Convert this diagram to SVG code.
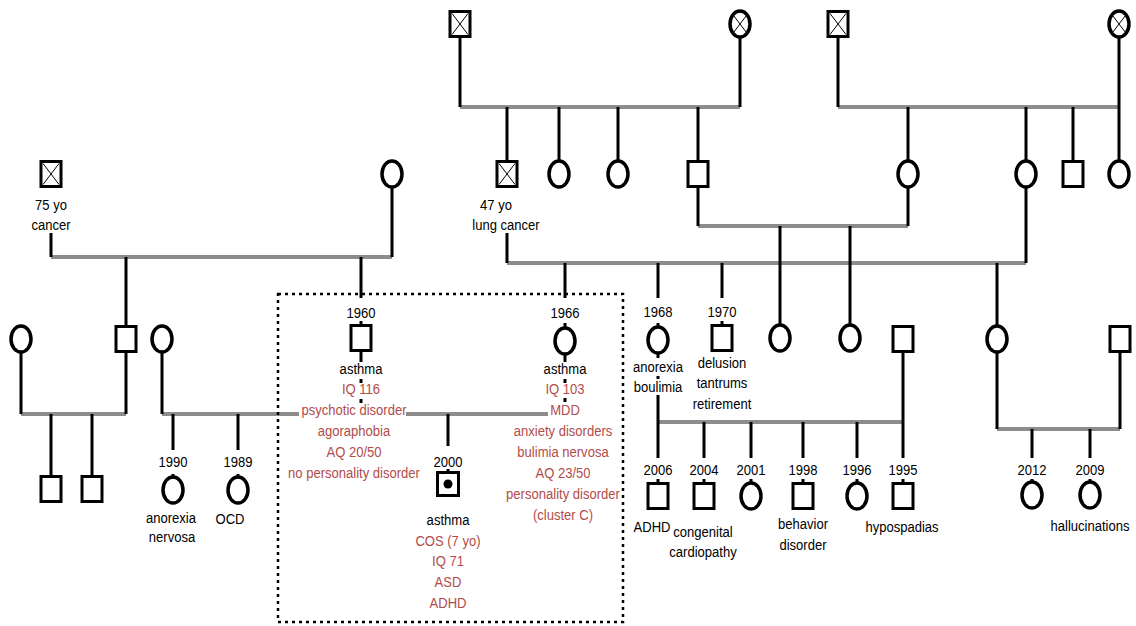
<svg xmlns="http://www.w3.org/2000/svg" width="1136" height="626" viewBox="0 0 1136 626">
<style>
.h{stroke:#8c8c8c;stroke-width:4;fill:none}
.v{stroke:#000;stroke-width:3;fill:none}
text{font-family:"Liberation Sans",Arial,sans-serif;font-size:14.5px;fill:#000;text-anchor:middle}
.r{fill:#b24c4a}
.box{fill:none;stroke:#000;stroke-width:2.5;stroke-dasharray:3 4}
</style>
<defs>
<rect id="sq" x="-10" y="-12.5" width="20" height="25" fill="#fff" stroke="#000" stroke-width="3"/>
<ellipse id="ci" rx="10" ry="13" fill="#fff" stroke="#000" stroke-width="3.5"/>
<g id="dsq"><rect x="-10" y="-12.5" width="20" height="25" fill="#fff" stroke="#000" stroke-width="3"/><path d="M-8-10.5L8 10.5M8-10.5L-8 10.5" stroke="#000" stroke-width="1"/></g>
<g id="dci"><ellipse rx="10" ry="13" fill="#fff" stroke="#000" stroke-width="3.5"/><path d="M-6.5-8.5L6.5 8.5M6.5-8.5L-6.5 8.5" stroke="#000" stroke-width="1"/></g>
</defs>
<rect width="1136" height="626" fill="#fff"/>
<g id="connectors">
<path class="h" d="M460 107H740M838 107H1119M51 257H392M698 226H908M507 263H1026M21 414H126M162 414H299M406 414H548M658 422H903M997 429H1120"/>
<path class="v" d="M460 37V107M740 37V107M838 37V107M1119 37V161M507 107V161M559 107V161M618 107V161M698 107V161M908 107V161M1026 107V161M1073 107V161M51 233V257M392 187V257M126 257V326M361 257V298M698 187V226M908 187V226M780 226V325M850 226V325M507 233V263M1026 187V263M565 263V298M658 263V298M722 263V298M997 263V326M21 352V414M126 352V414M51 414V476M92 414V476M162 352V414M173 414V450M238 414V450M361 351V362M361 379V383M361 399V403M565 354V362M565 379V383M565 398V402M448 414V446M658 353V358M658 376V379M658 395V458M903 352V458M704 422V458M751 422V458M803 422V458M857 422V458M997 352V429M1120 352V429M1032 429V458M1090 429V458"/>
<path class="v" stroke-width="2" d="M361 321V326M565 323V328M658 323V327M722 321V326M173 474V478M238 474V478M448 469V473M658 479V484M704 479V484M751 479V483M803 479V484M857 479V483M903 479V484M1032 479V482M1090 479V482"/>
</g>
<g id="gp1"><use href="#dsq" x="460" y="24"/></g>
<g id="gm1"><use href="#dci" x="740" y="24"/></g>
<g id="gp2"><use href="#dsq" x="838" y="24"/></g>
<g id="gm2"><use href="#dci" x="1119" y="24"/></g>
<g id="p75"><use href="#dsq" x="51" y="174"/><text transform="matrix(.9 0 0 1 51 0)" y="210">75 yo</text><text transform="matrix(.9 0 0 1 51 0)" y="230">cancer</text></g>
<g id="w392"><use href="#ci" x="392" y="174"/></g>
<g id="p47"><use href="#dsq" x="507" y="174"/><text transform="matrix(.9 0 0 1 496 0)" y="210">47 yo</text><text transform="matrix(.9 0 0 1 506 0)" y="230">lung cancer</text></g>
<g id="c559"><use href="#ci" x="559" y="174"/></g>
<g id="c618"><use href="#ci" x="618" y="174"/></g>
<g id="s698"><use href="#sq" x="698" y="174"/></g>
<g id="c908"><use href="#ci" x="908" y="174"/></g>
<g id="c1026"><use href="#ci" x="1026" y="174"/></g>
<g id="s1073"><use href="#sq" x="1073" y="174"/></g>
<g id="c1119"><use href="#ci" x="1119" y="174"/></g>
<g id="c21"><use href="#ci" x="21" y="339"/></g>
<g id="s126"><use href="#sq" x="126" y="339"/></g>
<g id="c162"><use href="#ci" x="162" y="339"/></g>
<g id="s51"><use href="#sq" x="51" y="489"/></g>
<g id="s92"><use href="#sq" x="92" y="489"/></g>
<g id="p1990"><text transform="matrix(.9 0 0 1 173 0)" y="467">1990</text><use href="#ci" x="173" y="490"/><text transform="matrix(.9 0 0 1 171 0)" y="523">anorexia</text><text transform="matrix(.9 0 0 1 172 0)" y="542">nervosa</text></g>
<g id="p1989"><text transform="matrix(.9 0 0 1 238 0)" y="467">1989</text><use href="#ci" x="238" y="490"/><text transform="matrix(.9 0 0 1 230 0)" y="524">OCD</text></g>
<rect id="focus-box" class="box" x="278" y="294" width="345" height="328"/>
<g id="p1960"><text transform="matrix(.9 0 0 1 361 0)" y="318">1960</text><use href="#sq" x="361" y="338"/><text transform="matrix(.9 0 0 1 361 0)" y="374">asthma</text>
<g class="r"><text class="r" transform="matrix(.9 0 0 1 361 0)" y="394">IQ 116</text><text class="r" transform="matrix(.9 0 0 1 354 0)" y="415">psychotic disorder</text><text class="r" transform="matrix(.9 0 0 1 354 0)" y="436">agoraphobia</text><text class="r" transform="matrix(.9 0 0 1 354 0)" y="457">AQ 20/50</text><text class="r" transform="matrix(.9 0 0 1 354 0)" y="478">no personality disorder</text></g></g>
<g id="p1966"><text transform="matrix(.9 0 0 1 565 0)" y="318">1966</text><use href="#ci" x="565" y="341"/><text transform="matrix(.9 0 0 1 565 0)" y="374">asthma</text>
<g class="r"><text class="r" transform="matrix(.9 0 0 1 565 0)" y="394">IQ 103</text><text class="r" transform="matrix(.9 0 0 1 565 0)" y="415">MDD</text><text class="r" transform="matrix(.9 0 0 1 563 0)" y="436">anxiety disorders</text><text class="r" transform="matrix(.9 0 0 1 563 0)" y="457">bulimia nervosa</text><text class="r" transform="matrix(.9 0 0 1 563 0)" y="478">AQ 23/50</text><text class="r" transform="matrix(.9 0 0 1 563 0)" y="499">personality disorder</text><text class="r" transform="matrix(.9 0 0 1 563 0)" y="520">(cluster C)</text></g></g>
<g id="p2000"><text transform="matrix(.9 0 0 1 448 0)" y="467">2000</text><rect x="437.5" y="472.5" width="21" height="23" fill="#fff" stroke="#000" stroke-width="3"/><circle cx="448" cy="484" r="4.5" fill="#000"/><text transform="matrix(.9 0 0 1 448 0)" y="525">asthma</text>
<g class="r"><text class="r" transform="matrix(.9 0 0 1 448 0)" y="546">COS (7 yo)</text><text class="r" transform="matrix(.9 0 0 1 448 0)" y="566">IQ 71</text><text class="r" transform="matrix(.9 0 0 1 448 0)" y="587">ASD</text><text class="r" transform="matrix(.9 0 0 1 448 0)" y="608">ADHD</text></g></g>
<g id="p1968"><text transform="matrix(.9 0 0 1 658 0)" y="317">1968</text><use href="#ci" x="658" y="340"/><text transform="matrix(.9 0 0 1 658 0)" y="372">anorexia</text><text transform="matrix(.9 0 0 1 658 0)" y="392">boulimia</text></g>
<g id="p1970"><text transform="matrix(.9 0 0 1 722 0)" y="317">1970</text><use href="#sq" x="722" y="338"/><text transform="matrix(.9 0 0 1 722 0)" y="368">delusion</text><text transform="matrix(.9 0 0 1 722 0)" y="388">tantrums</text><text transform="matrix(.9 0 0 1 722 0)" y="409">retirement</text></g>
<g id="c780"><use href="#ci" x="780" y="338"/></g>
<g id="c850"><use href="#ci" x="850" y="338"/></g>
<g id="s903"><use href="#sq" x="903" y="339"/></g>
<g id="c997"><use href="#ci" x="997" y="339"/></g>
<g id="s1120"><use href="#sq" x="1120" y="339"/></g>
<g id="k2006"><text transform="matrix(.9 0 0 1 658 0)" y="475">2006</text><use href="#sq" x="658" y="496"/><text transform="matrix(.9 0 0 1 652 0)" y="532">ADHD</text></g>
<g id="k2004"><text transform="matrix(.9 0 0 1 704 0)" y="475">2004</text><use href="#sq" x="704" y="496"/><text transform="matrix(.9 0 0 1 703 0)" y="537">congenital</text><text transform="matrix(.9 0 0 1 703 0)" y="557">cardiopathy</text></g>
<g id="k2001"><text transform="matrix(.9 0 0 1 751 0)" y="475">2001</text><use href="#ci" x="751" y="496"/></g>
<g id="k1998"><text transform="matrix(.9 0 0 1 803 0)" y="475">1998</text><use href="#sq" x="803" y="496"/><text transform="matrix(.9 0 0 1 803 0)" y="529">behavior</text><text transform="matrix(.9 0 0 1 803 0)" y="550">disorder</text></g>
<g id="k1996"><text transform="matrix(.9 0 0 1 857 0)" y="475">1996</text><use href="#ci" x="857" y="496"/></g>
<g id="k1995"><text transform="matrix(.9 0 0 1 903 0)" y="475">1995</text><use href="#sq" x="903" y="496"/><text transform="matrix(.9 0 0 1 902 0)" y="532">hypospadias</text></g>
<g id="k2012"><text transform="matrix(.9 0 0 1 1032 0)" y="475">2012</text><use href="#ci" x="1032" y="495"/></g>
<g id="k2009"><text transform="matrix(.9 0 0 1 1090 0)" y="475">2009</text><use href="#ci" x="1090" y="495"/><text transform="matrix(.9 0 0 1 1090 0)" y="531">hallucinations</text></g>
</svg>
